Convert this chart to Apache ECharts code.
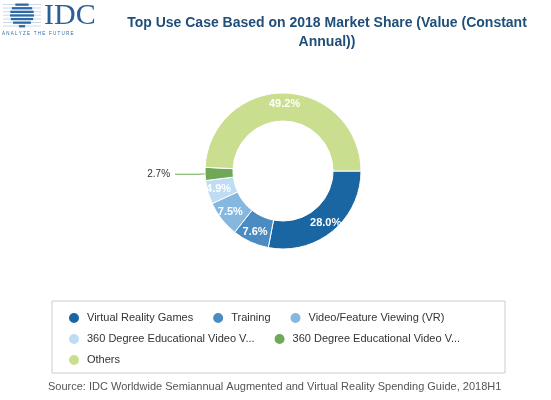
<!DOCTYPE html><html><head><meta charset="utf-8">
<script src="https://cdn.jsdelivr.net/npm/echarts@6/dist/echarts.min.js"></script>
<style>body{margin:0}#c{width:551px;height:400px}</style></head><body><div id="c"></div>
<script>
var categories=["Virtual Reality Games","Training","Video/Feature Viewing (VR)","360 Degree Educational Video Viewing","360 Degree Educational Video Viewing (AR)","Others"];
var values=[28.0,7.6,7.5,4.9,2.7,49.2];
var colors=["#1a66a3","#4a8bc2","#85b7df","#bfdcf5","#6fa856","#c9df8f"];
var chart=echarts.init(document.getElementById('c'));
var stripes=[];
for(var i=0;i<7;i++){var y=4+i*3.6;var dy=y+1-15;var hw=Math.sqrt(Math.max(0,144-dy*dy));
 stripes.push({type:'rect',shape:{x:3,y:y,width:38,height:1},style:{fill:'#c9d9ea'}});
 stripes.push({type:'rect',shape:{x:22-hw,y:y-0.5,width:hw*2,height:2.3},style:{fill:'#2b6aa6'}});}
var legendRows=[[0,1,2],[3,4],[5]];
var legends=legendRows.map(function(r,k){return {left:62,top:306+k*21,itemWidth:12,itemHeight:12,icon:'circle',itemGap:18,
  textStyle:{fontFamily:'Liberation Sans',fontSize:11,color:'#333',padding:[0,0,0,2]},
  formatter:function(n){return n.length>30?n.slice(0,30)+'...':n;},data:r.map(function(i){return categories[i];})};});
chart.setOption({
 title:{text:'Top Use Case Based on 2018 Market Share (Value (Constant\nAnnual))',left:322,top:9,textAlign:'center',
  textStyle:{fontFamily:'Arial, Liberation Sans',fontSize:14,fontWeight:'bold',color:'#1f4e79',lineHeight:19}},
 graphic:stripes.concat([
  {type:'text',left:44,top:1,style:{text:'IDC',font:'30px "Liberation Serif"',fill:'#2b5e95'}},
  {type:'text',left:2,top:31,style:{text:'A N A L Y Z E   T H E   F U T U R E',font:'4.5px Arial',fill:'#2b6aa6'}},
  {type:'rect',shape:{x:52,y:301,width:453,height:72},style:{fill:'none',stroke:'#ccc',lineWidth:1}},
  {type:'text',left:48,top:381,style:{text:'Source: IDC Worldwide Semiannual Augmented and Virtual Reality Spending Guide, 2018H1',font:'11px "Liberation Sans"',fill:'#555'}}
 ]),
 legend:legends,
 series:[{type:'pie',center:[283,171],radius:[50,78],startAngle:0,clockwise:true,
  color:colors,itemStyle:{borderColor:'#fff',borderWidth:1},
  label:{position:'inside',formatter:function(p){return p.value.toFixed(1)+'%';},color:'#fff',fontSize:11,fontWeight:'bold',fontFamily:'Liberation Sans'},
  labelLine:{show:false},
  data:categories.map(function(c,i){var d={name:c,value:values[i]};
   if(i===4){d.label={position:'outside',color:'#333',fontSize:10,fontWeight:'normal',fontFamily:'Liberation Sans'};d.labelLine={show:true,length:8,length2:22,lineStyle:{color:'#6fa856'}};}
   return d;})
 }]
});
</script></body></html>
